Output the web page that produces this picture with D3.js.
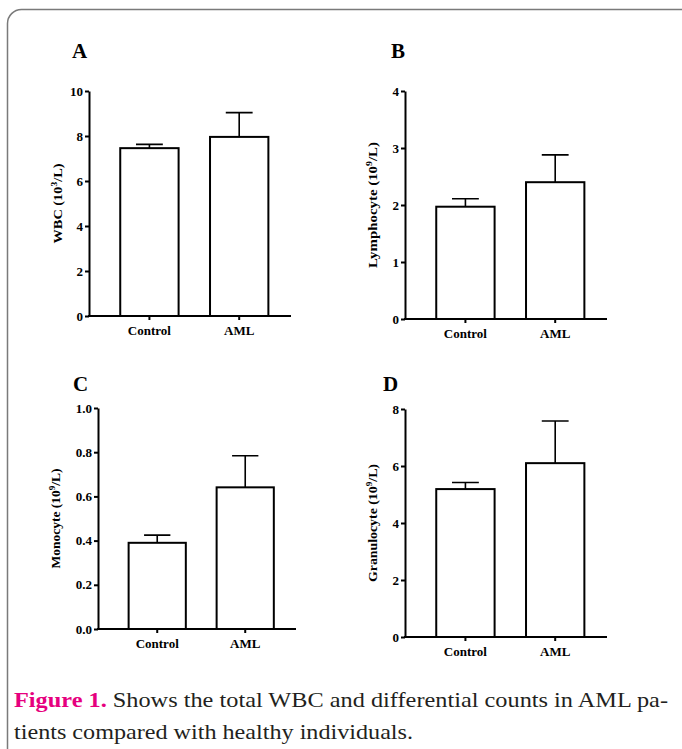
<!DOCTYPE html>
<meta charset="utf-8">
<head>
<style>
body { margin: 0; background: #fff; }
svg text { font-family: "Liberation Serif", "Times New Roman", serif; }
.axis path, .axis line { stroke: #000; stroke-width: 2px; }
.axis text { font-family: "Liberation Serif", "Times New Roman", serif; font-size: 13px; font-weight: bold; fill: #000; }
.bar { fill: #fff; stroke: #000; stroke-width: 2px; }
.err { stroke: #000; stroke-width: 1.6px; fill: none; }
.letter { font-size: 21px; font-weight: bold; }
.ytitle { font-size: 12px; font-weight: bold; }
.caption { font-size: 22px; fill: #231f20; }
</style>
</head>
<body>
<script src="https://cdn.jsdelivr.net/npm/d3@7"></script>
<script>

var width = 682,
    height = 749;

// data (mean, SEM)
var groups = ["Control", "AML"];

var wbcMean = [7.46, 7.96],
    wbcErr = [0.17, 1.08];
var lymphMean = [1.97, 2.40],
    lymphErr = [0.14, 0.48];
var monoMean = [0.39, 0.641],
    monoErr = [0.035, 0.143];
var granMean = [5.19, 6.10],
    granErr = [0.23, 1.48];

var wbcTicks = [0, 2, 4, 6, 8, 10],
    lymphTicks = [0, 1, 2, 3, 4],
    monoTicks = [0, 0.2, 0.4, 0.6, 0.8, 1.0],
    granTicks = [0, 2, 4, 6, 8];

var panels = [
  {letter: "A", title: "WBC (10", sup: "3", unit: "/L)", titleLen: 80,
   mean: wbcMean, err: wbcErr, ticks: wbcTicks, fmt: d3.format("d"),
   left: 89, right: 291, top: 91, bottom: 316, lx: 72, ly: 58, tx: 62},
  {letter: "B", title: "Lymphocyte (10", sup: "9", unit: "/L)", titleLen: 126,
   mean: lymphMean, err: lymphErr, ticks: lymphTicks, fmt: d3.format("d"),
   left: 405, right: 607, top: 91, bottom: 319, lx: 391, ly: 58, tx: 377},
  {letter: "C", title: "Monocyte (10", sup: "9", unit: "/L)", titleLen: 100,
   mean: monoMean, err: monoErr, ticks: monoTicks, fmt: d3.format(".1f"),
   left: 98, right: 296, top: 408, bottom: 629, lx: 73, ly: 391, tx: 60},
  {letter: "D", title: "Granulocyte (10", sup: "9", unit: "/L)", titleLen: 118,
   mean: granMean, err: granErr, ticks: granTicks, fmt: d3.format("d"),
   left: 405, right: 607, top: 409, bottom: 637, lx: 383, ly: 391, tx: 377}
];

var svg = d3.select("body").append("svg")
    .attr("width", width)
    .attr("height", height);

// rounded frame, running off the right and bottom edges
svg.append("rect")
    .attr("x", 7.5)
    .attr("y", 9.5)
    .attr("width", 690)
    .attr("height", 800)
    .attr("rx", 14)
    .attr("fill", "none")
    .attr("stroke", "#7a7a7a")
    .attr("stroke-width", 1.5);

panels.forEach(function(p) {
  var g = svg.append("g");

  var x = d3.scaleBand()
      .domain(groups)
      .range([p.left, p.right])
      .paddingInner(0.35)
      .paddingOuter(0.3)
      .align(0.58);

  var y = d3.scaleLinear()
      .domain([0, p.ticks[p.ticks.length - 1]])
      .range([p.bottom, p.top]);

  var rows = groups.map(function(d, i) {
    return {name: d, mean: p.mean[i], err: p.err[i]};
  });

  // bars
  g.selectAll(".bar")
      .data(rows)
    .enter().append("rect")
      .attr("class", "bar")
      .attr("x", function(d) { return x(d.name); })
      .attr("width", x.bandwidth())
      .attr("y", function(d) { return y(d.mean); })
      .attr("height", function(d) { return p.bottom - y(d.mean); });

  // error bars (upper only)
  var cap = x.bandwidth() * 0.23;
  g.selectAll(".err")
      .data(rows)
    .enter().append("path")
      .attr("class", "err")
      .attr("d", function(d) {
        var cx = x(d.name) + x.bandwidth() / 2;
        return "M" + cx + "," + y(d.mean) + "V" + y(d.mean + d.err) +
               "M" + (cx - cap) + "," + y(d.mean + d.err) + "H" + (cx + cap);
      });

  g.append("g")
      .attr("class", "axis")
      .attr("transform", "translate(0," + p.bottom + ")")
      .call(d3.axisBottom(x).tickSize(4).tickSizeOuter(0).tickPadding(6))
      .call(function(s) { s.select(".domain").attr("d", "M" + (p.left - 1) + ",0H" + p.right); });

  g.append("g")
      .attr("class", "axis")
      .attr("transform", "translate(" + p.left + ",0)")
      .call(d3.axisLeft(y).tickValues(p.ticks).tickFormat(p.fmt)
            .tickSize(4).tickSizeOuter(0).tickPadding(2));

  g.append("text")
      .attr("class", "letter")
      .attr("x", p.lx)
      .attr("y", p.ly)
      .text(p.letter);

  var midY = (p.top + p.bottom) / 2;
  var t = g.append("text")
      .attr("class", "ytitle")
      .attr("text-anchor", "middle")
      .attr("transform", "translate(" + p.tx + "," + midY + ") rotate(-90)")
      .attr("textLength", p.titleLen)
      .attr("lengthAdjust", "spacingAndGlyphs");
  t.append("tspan").text(p.title);
  t.append("tspan").attr("font-size", "8px").attr("dy", -5).text(p.sup);
  t.append("tspan").attr("dy", 5).text(p.unit);
});

// caption
var cap1 = svg.append("text")
    .attr("class", "caption")
    .attr("x", 14)
    .attr("y", 707)
    .attr("textLength", 654)
    .attr("lengthAdjust", "spacingAndGlyphs");
cap1.append("tspan")
    .attr("fill", "#e6007e")
    .attr("font-weight", "bold")
    .text("Figure 1.");
cap1.append("tspan")
    .text(" Shows the total WBC and differential counts in AML pa-");

svg.append("text")
    .attr("class", "caption")
    .attr("x", 14)
    .attr("y", 739)
    .attr("textLength", 399)
    .attr("lengthAdjust", "spacingAndGlyphs")
    .text("tients compared with healthy individuals.");

</script>
</body>
